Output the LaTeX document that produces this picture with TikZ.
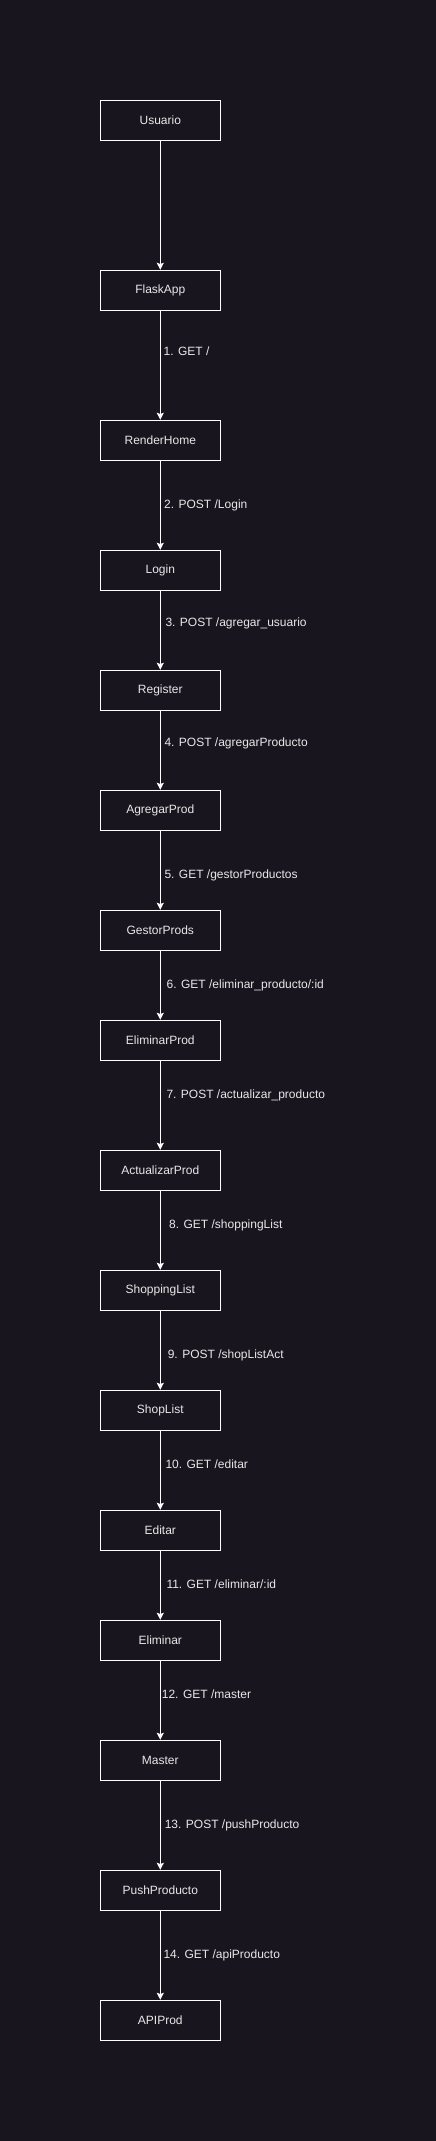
\documentclass[tikz,border=0pt]{standalone}
\usepackage{fontspec}
\setmainfont{Liberation Sans}
\usetikzlibrary{arrows.meta}
\definecolor{bg}{RGB}{24,21,30}
\definecolor{fg}{RGB}{232,232,232}
\begin{document}
\begin{tikzpicture}[x=1pt,y=-1pt,
  box/.style={draw=white, line width=1pt, rectangle, minimum width=120pt, minimum height=40pt, inner sep=0pt, text=fg, font=\fontsize{12pt}{14pt}\selectfont},
  lbl/.style={anchor=mid west, inner sep=0pt, text=fg, font=\fontsize{12pt}{14pt}\selectfont},
  conn/.style={draw=white, line width=1pt, -{Stealth[length=7pt,width=7pt,inset=1.2pt]}}]
\fill[bg] (0,0) rectangle (436,2141);
\useasboundingbox (0,0) rectangle (436,2141);
\node[box] (u)   at (160.3,120.3) {Usuario};
\node[box] (f)   at (160.3,290.3) {FlaskApp};
\node[box] (rh)  at (160.3,440.3) {RenderHome};
\node[box] (lg)  at (160.3,570.3) {Login};
\node[box] (rg)  at (160.3,690.3) {Register};
\node[box] (ap)  at (160.3,810.3) {AgregarProd};
\node[box] (gp)  at (160.3,930.3) {GestorProds};
\node[box] (ep)  at (160.3,1040.3) {EliminarProd};
\node[box] (acp) at (160.3,1170.3) {ActualizarProd};
\node[box] (sl)  at (160.3,1290.3) {ShoppingList};
\node[box] (shl) at (160.3,1410.3) {ShopList};
\node[box] (ed)  at (160.3,1530.3) {Editar};
\node[box] (el)  at (160.3,1640.3) {Eliminar};
\node[box] (ms)  at (160.3,1760.3) {Master};
\node[box] (pp)  at (160.3,1890.3) {PushProducto};
\node[box] (api) at (160.3,2020.3) {APIProd};
\draw[conn] (u) -- (f);
\draw[conn] (f) -- (rh);
\draw[conn] (rh) -- (lg);
\draw[conn] (lg) -- (rg);
\draw[conn] (rg) -- (ap);
\draw[conn] (ap) -- (gp);
\draw[conn] (gp) -- (ep);
\draw[conn] (ep) -- (acp);
\draw[conn] (acp) -- (sl);
\draw[conn] (sl) -- (shl);
\draw[conn] (shl) -- (ed);
\draw[conn] (ed) -- (el);
\draw[conn] (el) -- (ms);
\draw[conn] (ms) -- (pp);
\draw[conn] (pp) -- (api);
\node[lbl] (l1)  at (163.5,353) {1. GET /};
\node[lbl] (l2)  at (164,505.5) {2. POST /Login};
\node[lbl] (l3)  at (165.3,623.5) {3. POST /agregar\_usuario};
\node[lbl] (l4)  at (164.3,743.5) {4. POST /agregarProducto};
\node[lbl] (l5)  at (164.3,875.5) {5. GET /gestorProductos};
\node[lbl] (l6)  at (166.5,985.5) {6. GET /eliminar\_producto/:id};
\node[lbl] (l7)  at (166.3,1095.5) {7. POST /actualizar\_producto};
\node[lbl] (l8)  at (169,1225.5) {8. GET /shoppingList};
\node[lbl] (l9)  at (167.6,1355.5) {9. POST /shopListAct};
\node[lbl] (l10) at (165.3,1465.5) {10. GET /editar};
\node[lbl] (l11) at (166.3,1585.5) {11. GET /eliminar/:id};
\node[lbl] (l12) at (161.7,1695.5) {12. GET /master};
\node[lbl] (l13) at (164.6,1825.5) {13. POST /pushProducto};
\node[lbl] (l14) at (163.3,1955.5) {14. GET /apiProducto};
\end{tikzpicture}
\end{document}
